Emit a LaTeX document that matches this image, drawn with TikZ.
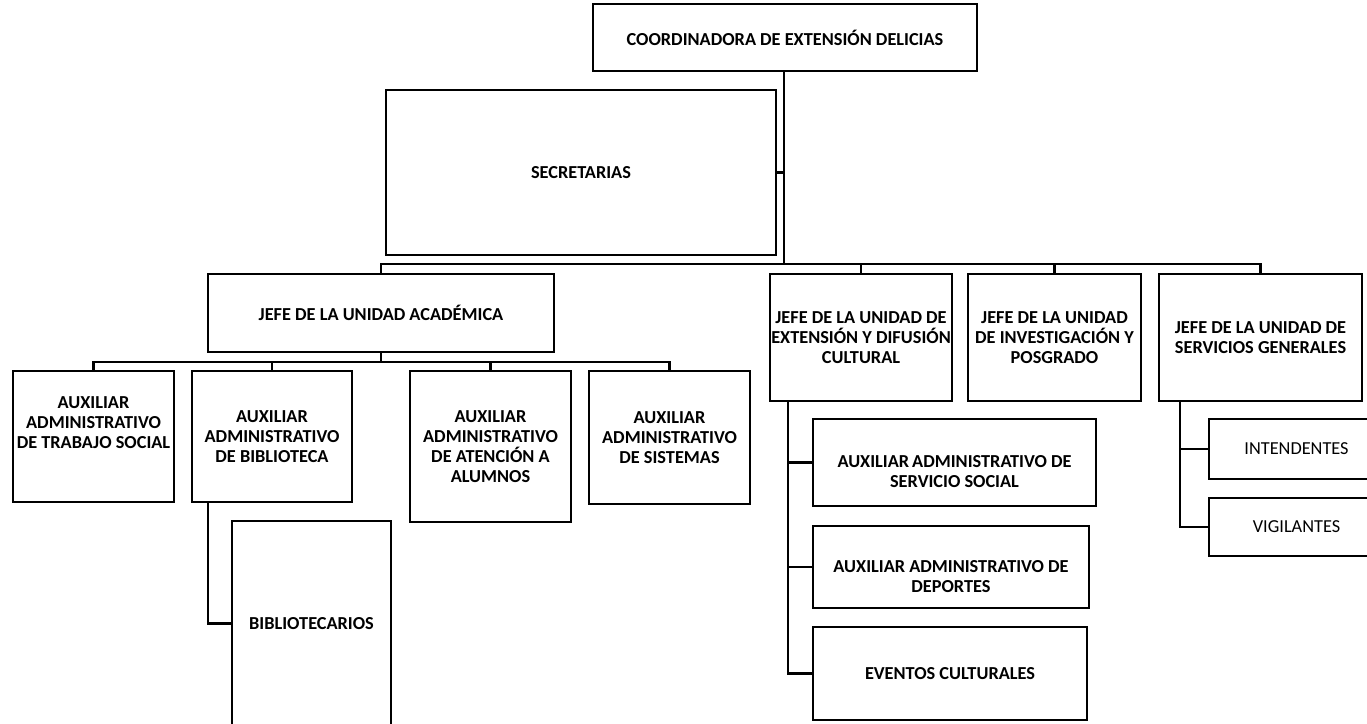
\documentclass[tikz,border=0pt]{standalone}
\usepackage{fontspec}
\setmainfont{Carlito}
\tikzset{
  box/.style={draw, line width=2.2pt, inner sep=0pt, outer sep=0pt},
  txt/.style={align=center, font=\fontsize{18.3}{20}\selectfont\bfseries, inner sep=0pt},
  txtr/.style={align=center, font=\fontsize{18.3}{20}\selectfont, inner sep=0pt},
  conn/.style={line width=2.2pt},
}
% [text style]{name}{x1}{y1}{x2}{y2}{text dy}{text}
\newcommand\orgbox[8][txt]{%
  \node[box, minimum width={(#5-#3)*1pt}, minimum height={(#6-#4)*1pt}] (#2) at ({(#3+#5)/2},{(#4+#6)/2}) {};
  \node[#1] (#2-t) at ({(#3+#5)/2},{(#4+#6)/2+#7}) {#8};
}
\begin{document}
\begin{tikzpicture}[x=1pt,y=-1pt]
\useasboundingbox[fill=white] (0,0) rectangle (1367,723);
\begin{scope}
\clip (0,0) rectangle (1367,723);
\orgbox{coord}{593}{4}{977}{71}{0}{COORDINADORA DE EXTENSIÓN DELICIAS}
\orgbox{secr}{386}{90}{776}{255}{0}{SECRETARIAS}
\orgbox{acad}{208}{274}{554}{352}{0}{JEFE DE LA UNIDAD ACADÉMICA}
\orgbox{ext}{770}{274}{952}{401}{0}{JEFE DE LA UNIDAD DE\\EXTENSIÓN Y DIFUSIÓN\\CULTURAL}
\orgbox{inv}{968}{274}{1141}{401}{0}{JEFE DE LA UNIDAD\\DE INVESTIGACIÓN Y\\POSGRADO}
\orgbox{serv}{1159}{274}{1362}{401}{0}{JEFE DE LA UNIDAD DE\\SERVICIOS GENERALES}
\orgbox{ts}{13}{371}{174}{502}{-13.5}{AUXILIAR\\ADMINISTRATIVO\\DE TRABAJO SOCIAL}
\orgbox{bib}{192}{371}{352}{502}{0}{AUXILIAR\\ADMINISTRATIVO\\DE BIBLIOTECA}
\orgbox{at}{410}{371}{571}{522}{0}{AUXILIAR\\ADMINISTRATIVO\\DE ATENCIÓN A\\ALUMNOS}
\orgbox{sis}{589}{371}{750}{504}{0}{AUXILIAR\\ADMINISTRATIVO\\DE SISTEMAS}
\orgbox{bibt}{232}{521}{391}{726}{0}{BIBLIOTECARIOS}
\orgbox{ss}{813}{419}{1096}{506}{9.5}{AUXILIAR\kern3pt ADMINISTRATIVO DE\\SERVICIO SOCIAL}
\orgbox{dep}{813}{526}{1089}{608}{10}{AUXILIAR ADMINISTRATIVO DE\\DEPORTES}
\orgbox{ev}{813}{627}{1087}{720}{0}{EVENTOS CULTURALES}
\orgbox[txtr]{int}{1209}{419}{1384}{479}{0}{INTENDENTES}
\orgbox[txtr]{vig}{1209}{498}{1384}{556}{0}{VIGILANTES}

\coordinate (b1) at (784,264);
\coordinate (b2) at (381,362);
\coordinate (l1) at ([xshift=16pt]bib.south west);
\coordinate (e1) at ([xshift=18pt]ext.south west);
\coordinate (s1) at ([xshift=21pt]serv.south west);

\draw[conn] (coord.south -| b1) -- (b1);
\draw[conn] (secr.east) -- (secr.east -| b1);
\draw[conn] (acad.north) |- (b1) -| (serv.north);
\draw[conn] (ext.north) -- (ext.north |- b1);
\draw[conn] (inv.north) -- (inv.north |- b1);

\draw[conn] (acad.south) -- (b2);
\draw[conn] (ts.north) |- (b2) -| (sis.north);
\draw[conn] (bib.north) -- (bib.north |- b2);
\draw[conn] (at.north) -- (at.north |- b2);

\draw[conn] (l1) |- (bibt.west);

\draw[conn] (e1) |- (ev.west);
\draw[conn] (ss.west) -- (ss.west -| e1);
\draw[conn] (dep.west) -- (dep.west -| e1);

\draw[conn] (s1) |- (vig.west);
\draw[conn] (int.west) -- (int.west -| s1);
\end{scope}
\end{tikzpicture}
\end{document}
